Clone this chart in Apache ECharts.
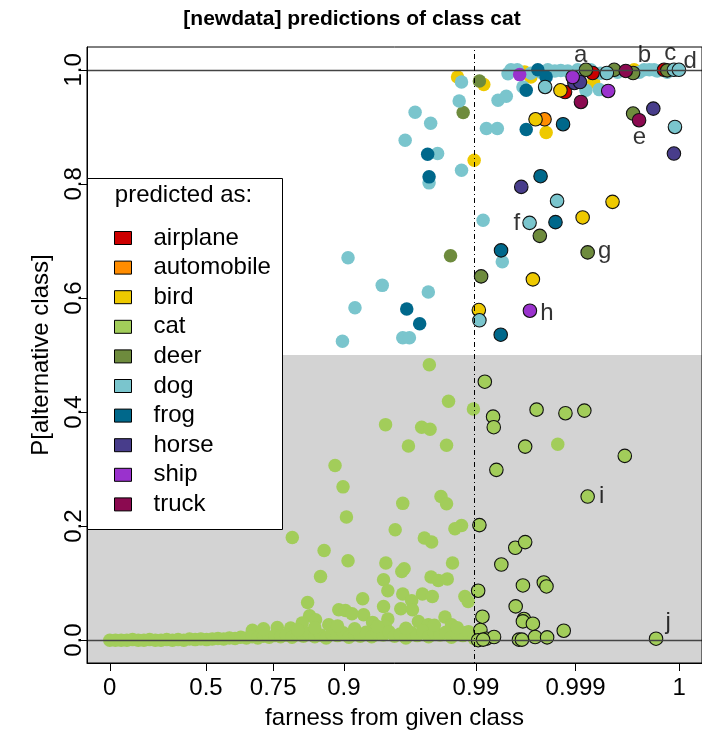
<!DOCTYPE html>
<html><head><meta charset="utf-8">
<script src="https://cdn.jsdelivr.net/npm/echarts@6/dist/echarts.min.js"></script>
<style>html,body{margin:0;padding:0;background:#fff}#c{width:702px;height:738px}</style>
</head><body><div id="c"></div>
<script>
// ---- axis definitions (x positions are in plot units: 0 = farness 0, 1 = farness 1)
const xTickLabels = ['0','0.5','0.75','0.9','0.99','0.999','1'];
const xTickPos = [0, 0.169, 0.287, 0.411, 0.643, 0.818, 1];
const yTickPos = [0, 0.2, 0.4, 0.6, 0.8, 1.0];
const thresholdPos = 0.643; // farness 0.99

const classNames = ['airplane','automobile','bird','cat','deer','dog','frog','horse','ship','truck'];
const classColors = ['#CD0000','#FF8C00','#EEC900','#A2CD5A','#6E8B3D','#7AC5CD','#00688B','#483D8B','#9A32CD','#8B0A50'];

// ---- data: [x (plot units), P[alternative class]]; "Plain" = no outline, "Ring" = outlined
const airplanePlain = [];
const airplaneRing = [[0.7995,0.9611],[0.8479,0.9944],[0.9733,1.0]];
const automobilePlain = [];
const automobileRing = [[0.7635,0.9133]];
const birdPlain = [[0.6107,0.9874],[0.6568,0.9741],[0.6399,0.8415],[0.7285,0.9962],[0.7395,0.9874],[0.7663,0.8900],[0.8497,0.9786],[0.9208,1.0]];
const birdRing = [[0.6481,0.5788],[0.7430,0.6326],[0.7477,0.9133],[0.7914,0.9641],[0.8304,0.7412],[0.8829,0.7685]];
const catPlain = [
 [0.5612,0.4830],[0.5949,0.4189],[0.6386,0.4054],[0.4843,0.3779],[0.5477,0.3734],[0.5624,0.3699],[0.5245,0.3406],[0.5914,0.3419],
 [0.3956,0.3061],[0.4096,0.2688],[0.5145,0.2399],[0.5816,0.2518],[0.5914,0.2391],[0.4156,0.2158],[0.5012,0.1935],[0.6177,0.2011],
 [0.6061,0.1953],[0.3205,0.1800],[0.5524,0.1790],[0.5652,0.1720],[0.3764,0.1573],[0.4184,0.1392],[0.4848,0.1352],[0.6019,0.1352],
 [0.3701,0.1117],[0.5128,0.1205],[0.5169,0.1252],[0.4808,0.1060],[0.5642,0.1107],[0.5769,0.1047],[0.5927,0.1072],[0.4883,0.0867],
 [0.5145,0.0809],[0.5490,0.0809],[0.5664,0.0767],[0.4441,0.0727],[0.3474,0.0662],[0.5302,0.0692],[0.6236,0.0767],[0.6294,0.0680],
 [0.4808,0.0592],[0.5110,0.0552],[0.5315,0.0534],[0.4458,0.0447],[0.4021,0.0534],[0.4138,0.0522],[0.4253,0.0464],[0.3509,0.0429],
 [0.3614,0.0359],[0.3379,0.0301],[0.3846,0.0271],[0.4615,0.0312],[0.4883,0.0371],[0.4837,0.0242],[0.5420,0.0329],[0.5594,0.0271],
 [0.5886,0.0406],[0.6002,0.0271],[0.2942,0.0224],[0.3177,0.0214],[0.2505,0.0172],[0.6236,0.0131],[0.7867,0.3436],
 [0.00,0.000],[0.01,0.000],[0.02,0.000],[0.03,0.000],[0.04,0.001],[0.05,0.000],[0.06,0.000],[0.07,0.001],[0.08,0.000],[0.09,0.000],
 [0.10,0.001],[0.11,0.000],[0.12,0.001],[0.13,0.000],[0.14,0.002],[0.15,0.001],[0.16,0.002],[0.17,0.001],[0.18,0.002],[0.19,0.003],
 [0.20,0.002],[0.21,0.004],[0.22,0.003],[0.23,0.005],[0.24,0.004],[0.25,0.006],[0.26,0.004],[0.27,0.007],[0.28,0.005],[0.29,0.008],
 [0.30,0.006],[0.31,0.009],[0.32,0.005],[0.33,0.010],[0.34,0.007],[0.35,0.012],[0.36,0.006],[0.37,0.009],[0.38,0.004],[0.39,0.011],
 [0.40,0.008],[0.41,0.013],[0.42,0.005],[0.43,0.010],[0.44,0.007],[0.45,0.014],[0.46,0.006],[0.47,0.012],[0.48,0.009],[0.49,0.015],
 [0.50,0.007],[0.51,0.011],[0.52,0.004],[0.53,0.013],[0.54,0.008],[0.55,0.016],[0.56,0.006],[0.57,0.012],[0.58,0.009],[0.59,0.014],
 [0.60,0.005],[0.61,0.011],[0.62,0.008],[0.63,0.015],[0.64,0.003],
 [0.27,0.020],[0.33,0.018],[0.36,0.022],[0.40,0.025],[0.43,0.020],[0.47,0.024],[0.52,0.021],[0.57,0.026],[0.61,0.022]
];
const catRing = [
 [0.6586,0.4532],[0.6731,0.3919],[0.6743,0.3734],[0.7495,0.4042],[0.8002,0.3979],[0.8334,0.4025],[0.7295,0.3394],[0.9044,0.3231],
 [0.6789,0.2986],[0.8392,0.2518],[0.6491,0.2018],[0.7121,0.1620],[0.7295,0.1720],[0.6876,0.1327],[0.7255,0.0960],[0.7622,0.1012],
 [0.7669,0.0942],[0.6469,0.0867],[0.7128,0.0592],[0.6544,0.0412],[0.7273,0.0371],[0.7255,0.0329],[0.7430,0.0289],[0.7972,0.0166],
 [0.6509,0.0179],[0.6469,0.0000],[0.6614,0.0026],[0.6748,0.0056],[0.6556,0.0010],[0.7185,0.0009],[0.7238,0.0009],[0.7470,0.0056],
 [0.7680,0.0049],[0.9593,0.0026]
];
const deerPlain = [[0.5984,0.6739],[0.6206,0.9250],[0.6491,0.9804]];
const deerRing = [[0.6521,0.6378],[0.7552,0.7089],[0.8392,0.6799],[0.8362,1.0],[0.8858,1.0],[0.9190,0.9944],[0.9190,0.9233],[0.9790,0.999]];
const dogPlain = [
 [0.4086,0.5240],[0.4184,0.6704],[0.4306,0.5828],[0.4785,0.6221],[0.5145,0.5303],[0.5262,0.5303],[0.5187,0.8765],[0.5362,0.9256],
 [0.5594,0.6103],[0.5607,0.8018],[0.5635,0.9063],[0.5757,0.8532],[0.6136,0.9454],[0.6177,0.9786],[0.6177,0.8240],[0.6556,0.7364],
 [0.6614,0.8970],[0.6806,0.8970],[0.6818,0.9466],[0.6963,0.9536],[0.6893,0.6634],[0.6993,0.9933],[0.7156,1.0],[0.7255,0.9699],
 [0.7395,0.9939],[0.7692,1.0],[0.7920,0.999],[0.8217,1.0],[0.8362,0.9641],[0.8596,0.9653],[0.9383,1.0],[0.9558,1.0],
 [0.7045,1.0],[0.7570,0.9956],[0.7815,0.998],[0.8042,0.998],[0.8444,1.0],[0.8619,0.9939],[0.8916,0.9956],[0.9301,0.9956],
 [0.9476,1.0],[0.9615,0.998],[0.9790,0.9956]
];
const dogRing = [[0.6491,0.5608],[0.7645,0.9699],[0.7372,0.7317],[0.7855,0.7702],[0.8729,0.9944],[0.9925,0.8998],[0.9907,1.0],[0.9995,1.0]];
const frogPlain = [[0.5215,0.5806],[0.5442,0.5548],[0.5582,0.8520],[0.5607,0.8123],[0.7313,0.9641],[0.7313,0.8953],[0.7517,1.0],[0.7663,0.9874]];
const frogRing = [[0.6865,0.5356],[0.6871,0.6834],[0.7827,0.7329],[0.7960,0.9046],[0.7565,0.8135]];
const horsePlain = [];
const horseRing = [[0.7226,0.7947],[0.8159,0.9769],[0.8257,0.9786],[0.9545,0.9320],[0.9907,0.8532]];
const shipPlain = [[0.7198,0.9916]];
const shipRing = [[0.7378,0.5776],[0.8753,0.9629],[0.8129,0.9874]];
const truckPlain = [];
const truckRing = [[0.8274,0.9436],[0.9061,0.998],[0.9295,0.9116]];

const plainByClass = [airplanePlain,automobilePlain,birdPlain,catPlain,deerPlain,dogPlain,frogPlain,horsePlain,shipPlain,truckPlain];
const ringByClass = [airplaneRing,automobileRing,birdRing,catRing,deerRing,dogRing,frogRing,horseRing,shipRing,truckRing];

// ---- point annotations (letter, x, y of the letter)
const noteText = ['a','b','c','d','e','f','g','h','i','j'];
const noteX = [0.8269,0.9388,0.9843,1.0192,0.9301,0.7150,0.8689,0.7675,0.8636,0.9808];
const noteY = [1.0254,1.0254,1.0289,1.0149,0.8818,0.7312,0.6821,0.5736,0.2513,0.0306];

const FONT = '"Liberation Sans", Arial, Helvetica, sans-serif';
const chart = echarts.init(document.getElementById('c'), null, {renderer:'canvas'});

function nearestLabel(v){
  let k=0, d=Infinity;
  xTickPos.forEach((p,i)=>{ const dd=Math.abs(p-v); if(dd<d){d=dd;k=i;} });
  return xTickLabels[k];
}

const series = [];
series.push({
  type:'scatter', name:'bg', data:[], z:1, silent:true,
  markArea:{silent:true, itemStyle:{color:'#D3D3D3'}, data:[[{yAxis:-0.04},{yAxis:0.5}]]}
});
classNames.forEach((n,i)=>{
  series.push({type:'scatter', name:n, data:plainByClass[i], symbolSize:13.5, z:2,
    itemStyle:{color:classColors[i], opacity:1, borderWidth:0}});
});
series.push({
  type:'scatter', name:'lines', data:[], z:3, silent:true,
  markLine:{silent:true, symbol:['none','none'], label:{show:false},
    lineStyle:{color:'#444', width:1.3, type:'solid'},
    data:[{yAxis:0},{yAxis:1},{xAxis:thresholdPos, lineStyle:{color:'#000', width:1, type:[1,3,5,3]}}]}
});
classNames.forEach((n,i)=>{
  series.push({type:'scatter', name:n, data:ringByClass[i], symbolSize:13.5, z:4,
    itemStyle:{color:classColors[i], opacity:1, borderColor:'#111', borderWidth:1.1}});
});
series.push({
  type:'scatter', name:'notes', z:6, silent:true, symbolSize:1,
  data: noteText.map((t,i)=>({name:t, value:[noteX[i], noteY[i]]})),
  label:{show:true, position:'inside', formatter:'{b}', fontSize:24, color:'#000', fontFamily:FONT},
  itemStyle:{color:'rgba(0,0,0,0)'}
});

chart.setOption({
  animation:false,
  backgroundColor:'#fff',
  grid:{left:87, top:47, width:618, height:616, show:true, borderColor:'#000', borderWidth:1, backgroundColor:'rgba(0,0,0,0)', z:8},
  xAxis:{type:'value', min:-0.04, max:1.04, z:8,
    axisLine:{show:true, onZero:false, lineStyle:{color:'#000', width:1}},
    axisTick:{show:true, customValues:xTickPos, length:8, lineStyle:{color:'#000', width:1}},
    axisLabel:{customValues:xTickPos, formatter:nearestLabel, fontSize:24, color:'#000', margin:13, fontFamily:FONT},
    splitLine:{show:false},
    name:'farness from given class', nameLocation:'middle', nameGap:43,
    nameTextStyle:{fontSize:24, color:'#000', fontFamily:FONT}},
  yAxis:{type:'value', min:-0.04, max:1.04, z:8,
    axisLine:{show:true, onZero:false, lineStyle:{color:'#000', width:1}},
    axisTick:{show:true, customValues:yTickPos, length:8, lineStyle:{color:'#000', width:1}},
    axisLabel:{customValues:yTickPos, formatter:v=>v.toFixed(1), rotate:90, fontSize:24, color:'#000', margin:1, fontFamily:FONT},
    splitLine:{show:false},
    name:'P[alternative class]', nameLocation:'middle', nameGap:34,
    nameTextStyle:{fontSize:24, color:'#000', fontFamily:FONT}},
  legend:{
    orient:'vertical', left:109, top:221, z:60, selectedMode:false,
    itemWidth:17, itemHeight:13, itemGap:5.6,
    textStyle:{fontSize:24, color:'#000', fontFamily:FONT, lineHeight:24, padding:[0,0,0,17]},
    data: classNames.map((n,i)=>({name:n, icon:'rect', itemStyle:{color:classColors[i], borderColor:'#000', borderWidth:1, opacity:1}}))
  },
  graphic:[
    {type:'rect', left:87, top:178, z:50, shape:{width:195, height:351}, style:{fill:'#fff', stroke:'#000', lineWidth:1}},
    {type:'text', x:183.5, y:195, z:61, style:{text:'predicted as:', align:'center', verticalAlign:'middle', fontSize:24, fontFamily:FONT, fill:'#000'}},
    {type:'text', x:352, y:19, z:61, style:{text:'[newdata] predictions of class cat', align:'center', verticalAlign:'middle', fontSize:21, fontWeight:'bold', fontFamily:FONT, fill:'#000'}}
  ],
  series: series
});
</script></body></html>
